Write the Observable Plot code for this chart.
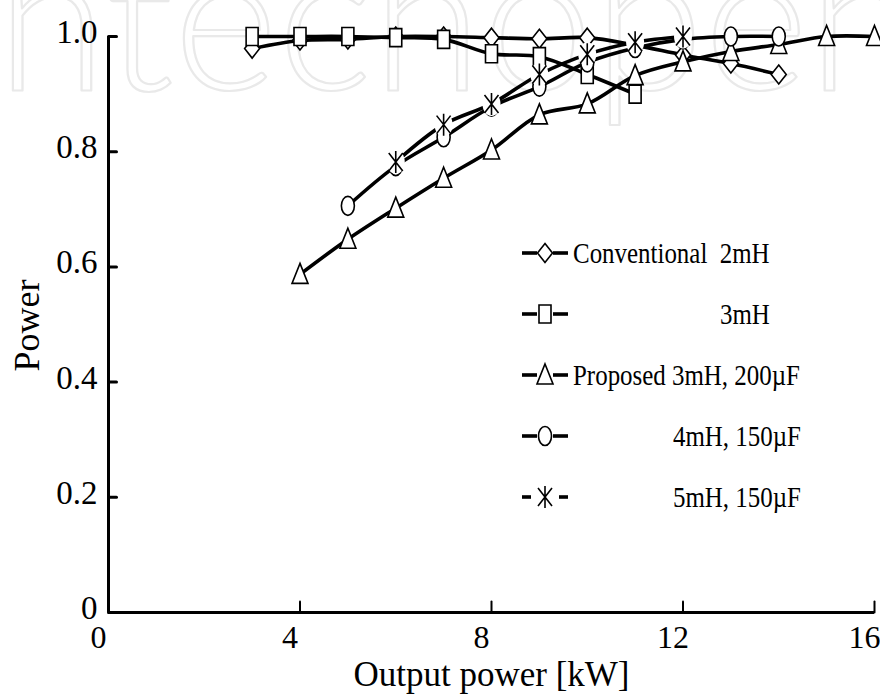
<!DOCTYPE html>
<html><head><meta charset="utf-8">
<script src="https://cdn.jsdelivr.net/npm/d3@7"></script>
<script src="https://cdn.jsdelivr.net/npm/@observablehq/plot@0.6"></script>
<style>
body{margin:0;background:#fff}
#wrap{position:relative;width:880px;height:694px}
#wrap svg{position:absolute;left:0;top:0}
</style>
</head><body><div id="wrap"></div>
<script>
// ---- data ----
const conv2X = [3,4,5,6,7,8,9,10,11,12,13,14];
const conv2Y = [0.979,0.993,0.995,1.0,1.0,0.998,0.996,0.998,0.985,0.968,0.953,0.934];
const conv3X = [3,4,5,6,7,8,9,10,11];
const conv3Y = [1.0,1.0,1.0,0.998,0.995,0.97,0.965,0.934,0.90];
const prop200X = [4,5,6,7,8,9,10,11,12,13,14,15,16];
const prop200Y = [0.587,0.648,0.702,0.754,0.803,0.864,0.883,0.932,0.956,0.974,0.986,1.0,1.0];
const mh4X = [5,6,7,8,9,10,11,12,13,14];
const mh4Y = [0.706,0.775,0.825,0.878,0.913,0.955,0.98,0.995,1.0,1.0];
const mh5X = [6,7,8,9,10,11,12];
const mh5Y = [0.782,0.847,0.883,0.934,0.969,0.99,1.0];

const xTicks = [0,4,8,12,16];
const yTicks = [0,0.2,0.4,0.6,0.8,1.0];
const legendLabels = ["Conventional\u00a0 2mH","3mH","Proposed 3mH, 200\u00b5F","4mH, 150\u00b5F","5mH, 150\u00b5F"];
const xLabel = "Output power [kW]";
const yLabel = "Power";
const watermark = "ntechopen";

const SERIF = "'Liberation Serif', 'Times New Roman', serif";

// ---- symbols ----
function ellipse(c, rx, ry){const k=0.5523;c.moveTo(rx,0);c.bezierCurveTo(rx,ry*k,rx*k,ry,0,ry);c.bezierCurveTo(-rx*k,ry,-rx,ry*k,-rx,0);c.bezierCurveTo(-rx,-ry*k,-rx*k,-ry,0,-ry);c.bezierCurveTo(rx*k,-ry,rx,-ry*k,rx,0);c.closePath();}
const symDiamond = {draw(c){c.moveTo(0,-9.5);c.lineTo(7.5,0);c.lineTo(0,9.5);c.lineTo(-7.5,0);c.closePath();}};
const symSquare = {draw(c){c.moveTo(-6,-9);c.lineTo(6,-9);c.lineTo(6,9);c.lineTo(-6,9);c.closePath();}};
const symTriangle = {draw(c){c.moveTo(0,-11);c.lineTo(8,9);c.lineTo(-8,9);c.closePath();}};
const symCircle = {draw(c){ellipse(c,6.5,9.5);}};
const symStar = {draw(c){c.moveTo(0,-11);c.lineTo(0,11);c.moveTo(-7,-9);c.lineTo(7,9);c.moveTo(7,-9);c.lineTo(-7,9);}};
const symHalo = {draw(c){ellipse(c,9,12);}};
const tickShape = {draw(c,l){c.moveTo(0,0);c.lineTo(0,-l);}};

const series = [
  {x: conv2X, y: conv2Y, sym: symDiamond, fill: "white"},
  {x: conv3X, y: conv3Y, sym: symSquare, fill: "white"},
  {x: prop200X, y: prop200Y, sym: symTriangle, fill: "white"},
  {x: mh4X, y: mh4Y, sym: symCircle, fill: "white"},
  {x: mh5X, y: mh5Y, sym: symStar, fill: "none", halo: true}
];

const marks = [
  Plot.text([watermark], {frameAnchor: "top-left", dx: -112, dy: 53, textAnchor: "start", lineAnchor: "bottom",
    fontSize: 200, fontFamily: "Lato", fontWeight: 300, fill: "none", stroke: "#e9e9e9", strokeWidth: 2.2})
];
for (const s of series) {
  const d = s.x.map((x,i)=>({x, y: s.y[i]}));
  marks.push(Plot.line(d, {x: "x", y: "y", curve: "catmull-rom", stroke: "black", strokeWidth: 3.6}));
  if (s.halo) marks.push(Plot.dot(d, {x: "x", y: "y", symbol: symHalo, r: 5, fill: "white", stroke: "none"}));
  marks.push(Plot.dot(d, {x: "x", y: "y", symbol: s.sym, r: 5, fill: s.fill, stroke: "black", strokeWidth: 1.6}));
}
const yFmt = d => d===0 ? "0" : d.toFixed(1);
marks.push(
  Plot.ruleX([0], {strokeWidth: 3}),
  Plot.ruleY([0], {strokeWidth: 3}),
  Plot.vector(yTicks, {x: 0, y: d=>d, length: 8, rotate: 90, anchor: "start", shape: tickShape, strokeWidth: 3}),
  Plot.vector(xTicks, {x: d=>d, y: 0, length: 11, rotate: 0, anchor: "start", shape: tickShape, strokeWidth: 2}),
  Plot.text(yTicks, {x: 0, y: d=>d, text: yFmt, textAnchor: "end", dx: -11, dy: -4, fontFamily: SERIF, fontSize: 33}),
  Plot.text(xTicks, {x: d=>d, y: 0, text: d=>String(d), lineAnchor: "top", dx: -10, dy: 13, fontFamily: SERIF, fontSize: 32}),
  Plot.text([xLabel], {frameAnchor: "bottom", dy: 62, lineAnchor: "middle", textAnchor: "middle", fontSize: 35, fontFamily: SERIF}),
  Plot.text([yLabel], {frameAnchor: "left", dx: -81, dy: 1, rotate: -90, textAnchor: "middle", lineAnchor: "middle", fontSize: 36, fontFamily: SERIF})
);

const chart = Plot.plot({
  width: 880, height: 694,
  marginLeft: 108, marginRight: 6, marginTop: 36, marginBottom: 82,
  x: {domain: [0,16], axis: null},
  y: {domain: [0,1], axis: null},
  style: {fontFamily: SERIF, fontSize: "32px", background: "transparent", color: "black"},
  marks
});
const wrap = document.getElementById("wrap");
wrap.appendChild(chart);

// ---- legend overlay ----
const legendRowY = [253, 314, 375, 436, 497];
const legendTextX = [573, 720, 573, 673, 673];
const legendSyms = [symDiamond, symSquare, symTriangle, symCircle, symStar];
const lg = d3.select(wrap).append("svg").attr("width", 880).attr("height", 694)
  .style("pointer-events","none");
legendLabels.forEach((lab, i) => {
  const g = lg.append("g").attr("transform", `translate(0,${legendRowY[i]})`);
  const gap = i === 4 ? 14 : 8;
  g.append("line").attr("x1", 522).attr("x2", 545-gap).attr("y1",0).attr("y2",0).attr("stroke","black").attr("stroke-width",3.6);
  g.append("line").attr("x1", 545+gap).attr("x2", 568).attr("y1",0).attr("y2",0).attr("stroke","black").attr("stroke-width",3.6);
  const p = d3.path(); legendSyms[i].draw(p);
  g.append("path").attr("transform","translate(545,0)").attr("d", p.toString())
    .attr("fill", i===4 ? "none" : "white").attr("stroke","black").attr("stroke-width",1.6);
  g.append("text").attr("transform", `translate(${legendTextX[i]},0) scale(0.86,1)`)
    .attr("dy","0.35em").attr("font-family", SERIF).attr("font-size",29).text(lab);
});
</script></body></html>
